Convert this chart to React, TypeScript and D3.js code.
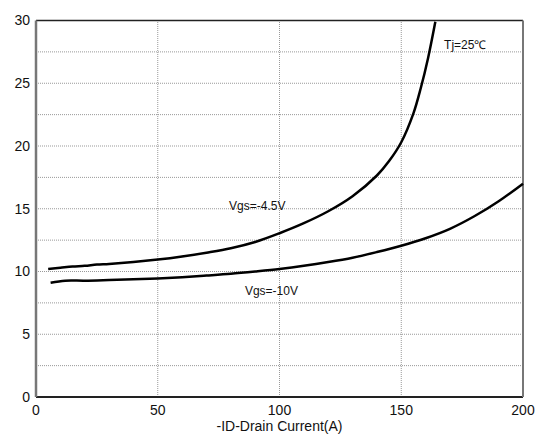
import * as d3 from "d3";
import React from "react";

// curve data
const vgs45X = [5, 10, 15, 20, 25, 30, 40, 50, 60, 70, 80, 90, 100, 110, 120, 130, 140, 145, 150, 155, 158, 161, 164];
const vgs45Y = [10.2, 10.3, 10.4, 10.45, 10.55, 10.6, 10.75, 10.95, 11.2, 11.5, 11.85, 12.35, 13.05, 13.85, 14.8, 16.0, 17.65, 18.8, 20.3, 22.6, 24.6, 27.0, 29.9];
const vgs10X = [6, 12, 20, 30, 40, 50, 60, 70, 80, 90, 100, 110, 120, 130, 140, 150, 160, 170, 180, 190, 200];
const vgs10Y = [9.1, 9.27, 9.27, 9.32, 9.38, 9.45, 9.55, 9.68, 9.82, 10.0, 10.2, 10.45, 10.75, 11.1, 11.55, 12.05, 12.65, 13.4, 14.4, 15.6, 17.0];

const xTicks = [0, 50, 100, 150, 200];
const yTicks = [0, 5, 10, 15, 20, 25, 30];
const yGrid = [2.5, 5, 7.5, 10, 12.5, 15, 17.5, 20, 22.5, 25, 27.5];
const xGrid = [50, 100, 150];

const W = 537, H = 436;
const margin = { left: 36, right: 14, top: 20.5, bottom: 39 };

export default function App() {
  const x = d3.scaleLinear().domain([0, 200]).range([margin.left, W - margin.right]);
  const y = d3.scaleLinear().domain([0, 30]).range([H - margin.bottom, margin.top]);

  const line = d3.line<[number, number]>()
    .x(d => x(d[0]))
    .y(d => y(d[1]))
    .curve(d3.curveCatmullRom.alpha(0.5));

  const s45 = vgs45X.map((v, i) => [v, vgs45Y[i]] as [number, number]);
  const s10 = vgs10X.map((v, i) => [v, vgs10Y[i]] as [number, number]);

  const font = "'Liberation Sans', Arial, sans-serif";

  return (
    <svg width={W} height={H} style={{ position: "absolute", left: 0, top: 0, background: "#fff" }} fontFamily={font}>
      {/* grid */}
      {yGrid.map(v => (
        <line key={"gy" + v} x1={x(0)} x2={x(200)} y1={y(v)} y2={y(v)}
          stroke="#999" strokeWidth={1} strokeDasharray="1,1" />
      ))}
      {xGrid.map(v => (
        <line key={"gx" + v} x1={x(v)} x2={x(v)} y1={y(0)} y2={y(30)}
          stroke="#999" strokeWidth={1} strokeDasharray="1,1" />
      ))}

      {/* frame */}
      <line x1={x(0)} x2={x(200)} y1={y(30)} y2={y(30)} stroke="#222" strokeWidth={1.5} />
      <line x1={x(0)} x2={x(200)} y1={y(0)} y2={y(0)} stroke="#222" strokeWidth={2} />
      <line x1={x(0)} x2={x(0)} y1={y(30)} y2={y(0)} stroke="#777" strokeWidth={2.5} />
      <line x1={x(200)} x2={x(200)} y1={y(30)} y2={y(0)} stroke="#777" strokeWidth={2} />

      {/* curves */}
      <path d={line(s45) || ""} fill="none" stroke="#000" strokeWidth={2.5} />
      <path d={line(s10) || ""} fill="none" stroke="#000" strokeWidth={2.5} />

      {/* tick labels */}
      {yTicks.map(v => (
        <text key={"ty" + v} x={x(0) - 6} y={y(v)} dy="0.35em" textAnchor="end" fontSize={14} fill="#111">{v}</text>
      ))}
      {xTicks.map(v => (
        <text key={"tx" + v} x={x(v)} y={y(0) + 18} textAnchor="middle" fontSize={14} fill="#111">{v}</text>
      ))}

      <text x={(x(0) + x(200)) / 2} y={431} textAnchor="middle" fontSize={14} fill="#111">-ID-Drain Current(A)</text>

      <text x={x(167.6)} y={y(28.1)} dy="0.35em" fontSize={12} fill="#111">Tj=25℃</text>
      <text x={x(79.3)} y={y(15.25)} dy="0.35em" fontSize={12} fill="#111">Vgs=-4.5V</text>
      <text x={x(85.8)} y={y(8.45)} dy="0.35em" fontSize={12} fill="#111">Vgs=-10V</text>
    </svg>
  );
}
